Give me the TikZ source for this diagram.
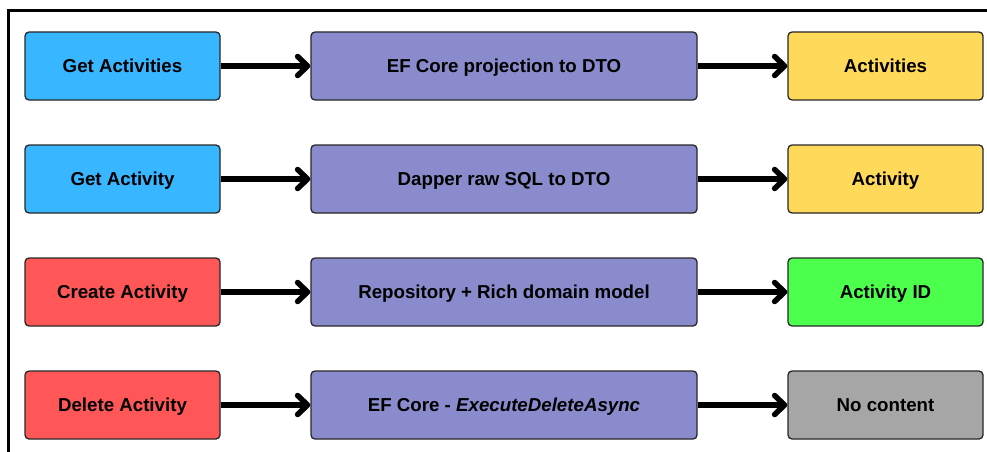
\documentclass[tikz,border=0pt]{standalone}
\usepackage{fontspec}
\setmainfont{Liberation Sans}
\usetikzlibrary{arrows.meta}
\definecolor{cblue}{RGB}{56,182,255}
\definecolor{cpurple}{RGB}{137,139,204}
\definecolor{cyellow}{RGB}{255,217,90}
\definecolor{cred}{RGB}{255,87,87}
\definecolor{cgreen}{RGB}{77,255,77}
\definecolor{cgray}{RGB}{166,166,166}
\definecolor{cborder}{RGB}{40,40,40}
\tikzset{
  box/.style={draw=cborder, line width=1.3pt, rounded corners=4pt, minimum height=68pt, inner sep=0pt, text height=13.4pt, text depth=0pt, font=\bfseries\fontsize{18.7}{22}\selectfont, text=black},
  lbox/.style={box, minimum width=195pt},
  mbox/.style={box, fill=cpurple, minimum width=386pt},
  rbox/.style={box, minimum width=195pt},
  conn/.style={line width=5.5pt, -{Straight Barb[length=10pt, width=19pt, line cap=round, line join=round]}}
}
\begin{document}
\begin{tikzpicture}[x=1pt,y=1pt]
\useasboundingbox (0,0) rectangle (987,-452);
\clip (0,0) rectangle (987,-452);
\fill[white] (0,0) rectangle (987,-452);
\draw[line width=3pt] (1000,-11) -- (8,-11) -- (8,-470);
% row centres: 66, 179, 292, 405
\node[lbox, fill=cblue] (l1) at (122.5,-66) {Get Activities};
\node[mbox] (m1) at (504,-66) {EF Core projection to DTO};
\node[rbox, fill=cyellow] (r1) at (885.5,-66) {Activities};
\node[lbox, fill=cblue] (l2) at (122.5,-179) {Get Activity};
\node[mbox] (m2) at (504,-179) {Dapper raw SQL to DTO};
\node[rbox, fill=cyellow] (r2) at (885.5,-179) {Activity};
\node[lbox, fill=cred] (l3) at (122.5,-292) {Create Activity};
\node[mbox] (m3) at (504,-292) {Repository + Rich domain model};
\node[rbox, fill=cgreen] (r3) at (885.5,-292) {Activity ID};
\node[lbox, fill=cred] (l4) at (122.5,-405) {Delete Activity};
\node[mbox] (m4) at (504,-405) {EF Core - \textit{ExecuteDeleteAsync}};
\node[rbox, fill=cgray] (r4) at (885.5,-405) {No content};
\foreach \i in {1,2,3,4}{
  \draw[conn] (l\i.east) -- (m\i.west);
  \draw[conn] (m\i.east) -- (r\i.west);
}
\end{tikzpicture}
\end{document}
